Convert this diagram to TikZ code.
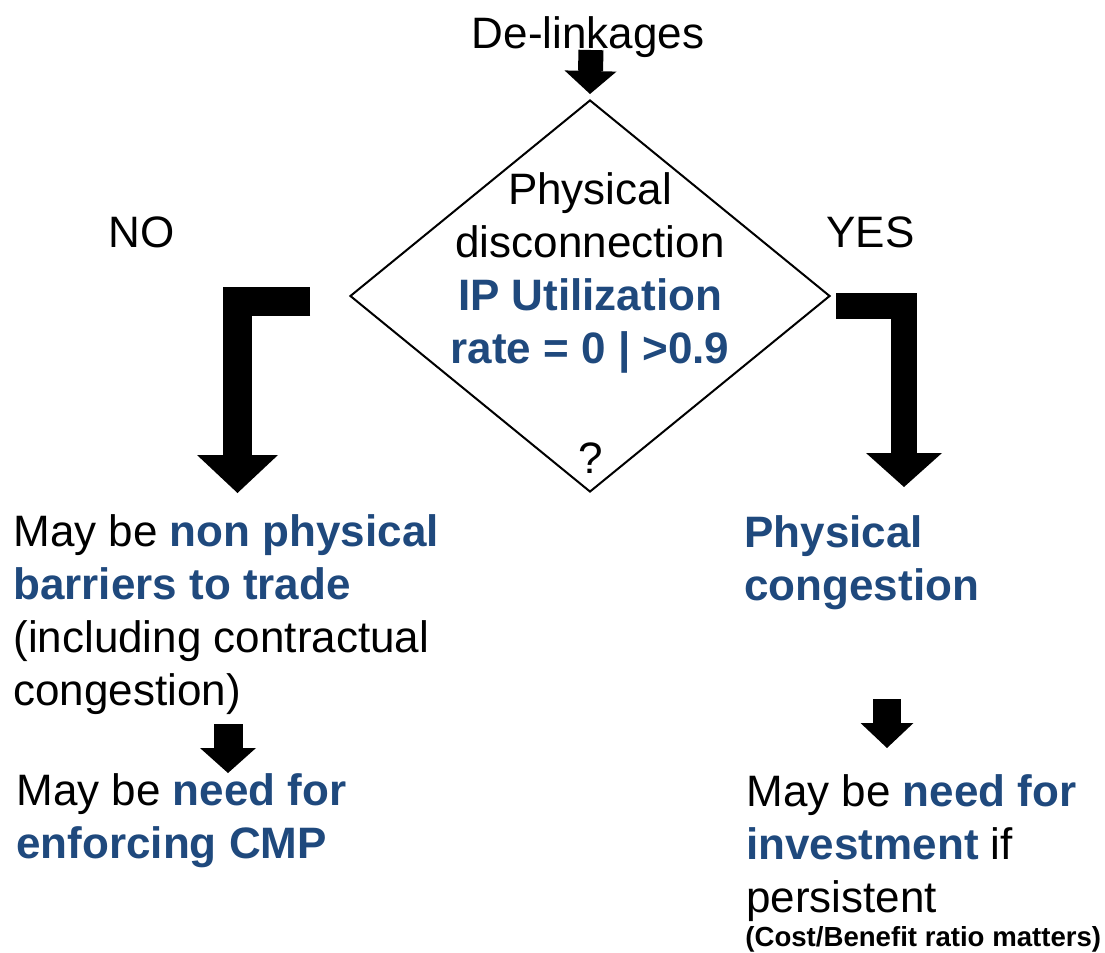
\documentclass[tikz,border=0pt]{standalone}
\usepackage{fontspec}
\setmainfont{Liberation Sans}
\usetikzlibrary{arrows.meta,shapes.geometric,positioning}
\definecolor{keyblue}{RGB}{31,73,125}
\newcommand{\keyterm}[1]{\textbf{\color{keyblue}#1}}

\begin{document}
\begin{tikzpicture}[x=0.5pt,y=-0.5pt]
\tikzset{TEXT/.style={inner sep=0pt,align=left,font=\fontsize{22}{26.5}\selectfont}}
\tikzset{SMALL TEXT/.style={TEXT,font=\fontsize{13.8}{16}\selectfont\bfseries}}
\tikzset{DECISION/.style={draw,diamond,line width=1pt,inner sep=0pt,minimum width=240pt,minimum height=196pt}}
\tikzset{BLOCK ARROW/.style n args={3}{draw,line width=#1,line join=miter,-{Triangle[width=#2,length=#3,line width=0pt]}}}

\useasboundingbox (0,0) rectangle (1105,953);

% multi-line texts sit on the baseline of their last line
\node[TEXT,anchor=base] (delinkages) at (588,48) {De-linkages};
\node[DECISION] (test) at (590,296) {};
\node[TEXT,anchor=base,align=center] (criterion) at (590,363) {Physical\\disconnection\\\keyterm{IP Utilization}\\\keyterm{rate = 0 | >0.9}};
\node[TEXT,anchor=base] (question) at (591,473) {?};

\node[TEXT,anchor=base west] (no) at (108,247) {NO};
\node[TEXT,anchor=base west] (yes) at (826,247) {YES};

\node[TEXT,anchor=base west] (barriers) at (13,705) {May be \keyterm{non physical}\\\keyterm{barriers to trade}\\(including contractual\\congestion)};
\node[TEXT,anchor=base west] (enforcing) at (16,858) {May be \keyterm{need for}\\\keyterm{enforcing CMP}};
\node[TEXT,anchor=base west] (congestion) at (744,600) {\keyterm{Physical}\\\keyterm{congestion}};
\node[TEXT,anchor=base west] (investment) at (746,912) {May be \keyterm{need for}\\\keyterm{investment} if\\persistent};
\node[SMALL TEXT,anchor=base west] (ratio) at (745,946) {(Cost/Benefit ratio matters)};

\coordinate (delinkages arrow) at (591,50);
\coordinate (no arrow) at (310,301.5);
\coordinate (no tip) at (237.5,493);
\coordinate (yes arrow) at (836,305.5);
\coordinate (yes tip) at (904,487);
\coordinate (enforcing arrow) at (228,724);
\coordinate (enforcing tip) at (228,773);
\coordinate (investment arrow) at (887,699);
\coordinate (investment tip) at (887,748);

\path[BLOCK ARROW={12.5pt}{26pt}{11.5pt}] (delinkages arrow) -- ([yshift=2.5pt]test.north);
\path[BLOCK ARROW={14.5pt}{40.5pt}{19pt}] (no arrow) -| (no tip);
\path[BLOCK ARROW={13pt}{38pt}{17pt}] (yes arrow) -| (yes tip);
\path[BLOCK ARROW={14.5pt}{28pt}{12.5pt}] (enforcing arrow) -- (enforcing tip);
\path[BLOCK ARROW={14pt}{26.5pt}{12.5pt}] (investment arrow) -- (investment tip);

\end{tikzpicture}
\end{document}
